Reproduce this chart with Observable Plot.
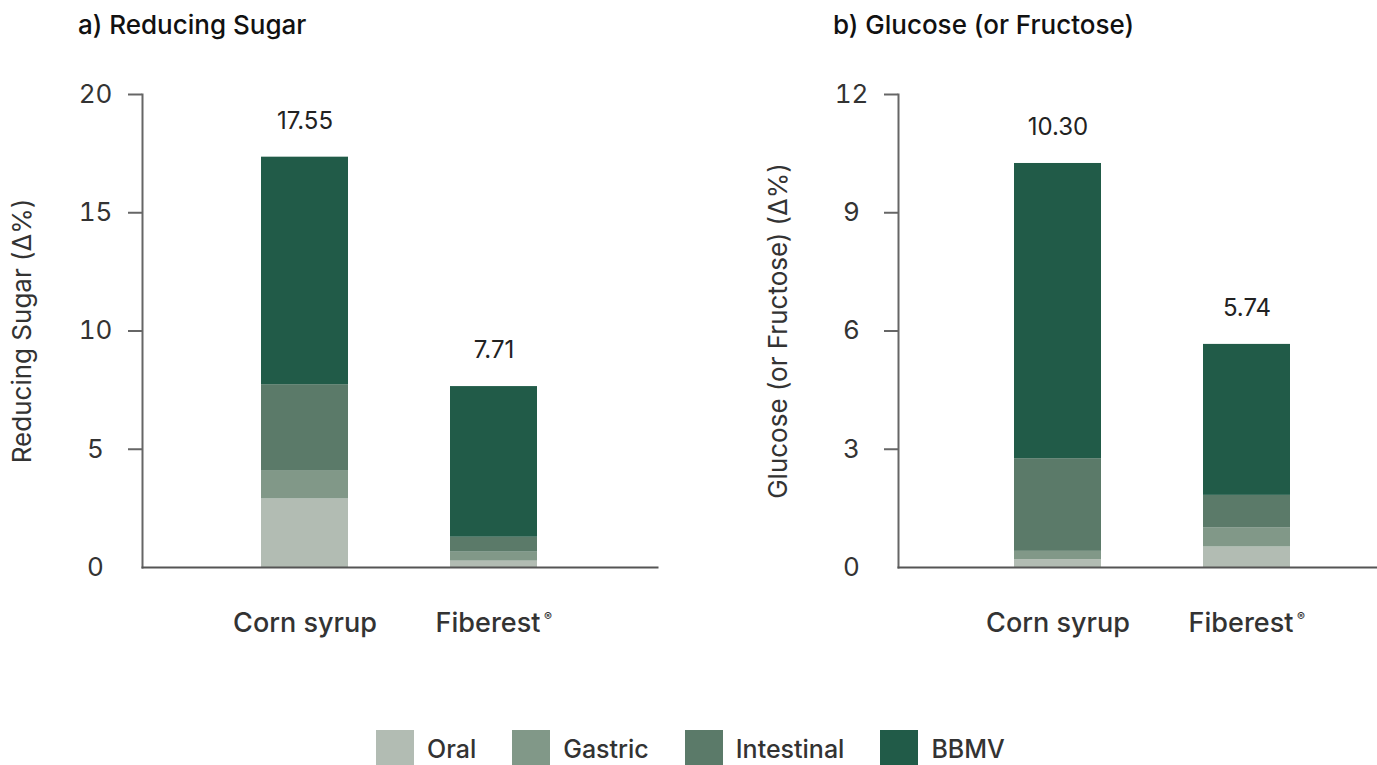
<!DOCTYPE html>
<html>
<head>
<meta charset="utf-8">
<script src="https://cdn.jsdelivr.net/npm/d3@7"></script>
<script src="https://cdn.jsdelivr.net/npm/@observablehq/plot@0.6"></script>
<style>
  html, body { margin: 0; padding: 0; background: #fff; }
  #root { position: relative; width: 1377px; height: 765px; overflow: hidden; font-family: Inter, "Open Sans", sans-serif; }
  .title { position: absolute; top: 9px; font-size: 26px; font-weight: 500; color: #111; white-space: nowrap; }
  .panel { position: absolute; top: 0; }
  #legend { position: absolute; top: 730px; left: 376px; display: flex; align-items: flex-start; }
  .item { display: flex; align-items: flex-start; margin-right: 36px; }
  .sw { width: 38px; height: 38px; margin-right: 13px; }
  .lab { font-size: 25px; font-weight: 500; color: #333; line-height: 38px; }
</style>
</head>
<body>
<div id="root"></div>
<script>
// ---- data ----
const categories = ["Corn syrup", "Fiberest"];
const trademark = ["", "®"];
const stages = ["Oral", "Gastric", "Intestinal", "BBMV"];
const stageColors = ["#b2bcb3", "#819888", "#5b7a69", "#215b48"];

// a) Reducing Sugar (Δ%) – per stage, per category
const sugarCorn = [2.90, 1.20, 3.63, 9.62];
const sugarFiberest = [0.27, 0.38, 0.63, 6.37];
const sugarTotals = ["17.55", "7.71"];
const sugarTicks = [0, 5, 10, 15, 20];

// b) Glucose (or Fructose) (Δ%)
const glucoseCorn = [0.20, 0.21, 2.35, 7.49];
const glucoseFiberest = [0.52, 0.49, 0.82, 3.83];
const glucoseTotals = ["10.30", "5.74"];
const glucoseTicks = [0, 3, 6, 9, 12];

const panelTitles = ["a) Reducing Sugar", "b) Glucose (or Fructose)"];
const yLabels = ["Reducing Sugar (Δ%)", "Glucose (or Fructose) (Δ%)"];

function rows(corn, fib) {
  const out = [];
  [corn, fib].forEach((vals, ci) => {
    vals.forEach((v, si) => out.push({category: categories[ci], stage: stages[si], value: v}));
  });
  return out;
}
function totalsRows(corn, fib, labels) {
  return [corn, fib].map((vals, ci) => ({category: categories[ci], total: d3.sum(vals), label: labels[ci]}));
}

const root = document.getElementById("root");

function panel({left, width, marginRight, xRange, corn, fib, labels, ticks, yLabel}) {
  const data = rows(corn, fib);
  const tots = totalsRows(corn, fib, labels);
  const font = "Inter, 'Open Sans', sans-serif";
  const plain = categories.filter((c, i) => !trademark[i]);
  const marked = categories.filter((c, i) => trademark[i]);
  const chart = Plot.plot({
    width, height: 660,
    marginLeft: 142, marginRight, marginTop: 94, marginBottom: 93,
    style: {fontFamily: font, fontSize: "24px", color: "#333", background: "transparent", overflow: "visible"},
    x: {type: "band", domain: categories, range: xRange, paddingInner: 0.538, paddingOuter: 0, axis: null},
    y: {domain: [ticks[0], ticks[ticks.length - 1]], axis: null},
    color: {domain: stages, range: stageColors},
    marks: [
      Plot.barY(data, {x: "category", y: "value", fill: "stage", order: stages}),
      Plot.frame({anchor: "left", stroke: "#666", strokeWidth: 2}),
      Plot.frame({anchor: "bottom", stroke: "#555", strokeWidth: 2}),
      Plot.axisY({ticks: ticks.slice(1), tickSize: 14, tickFormat: () => "", stroke: "#666", strokeWidth: 2, label: null}),
      Plot.axisY({ticks, tickSize: 0, tickPadding: 47, textAnchor: "middle", fontSize: 26, fill: "#333", label: null}),
      Plot.text([yLabel], {frameAnchor: "left", rotate: -90, dx: -120, fontSize: 26, fill: "#333", textAnchor: "middle", lineAnchor: "middle"}),
      Plot.text(tots, {x: "category", y: "total", text: "label", dy: -36, fontSize: 24, fill: "#222", lineAnchor: "middle"}),
      Plot.text(plain, {x: d => d, frameAnchor: "bottom", dy: 56, fontSize: 27, fontWeight: 500, fill: "#333", lineAnchor: "middle"}),
      Plot.text(marked, {x: d => d, frameAnchor: "bottom", dy: 56, dx: -6, fontSize: 27, fontWeight: 500, fill: "#333", lineAnchor: "middle"}),
      Plot.text(marked, {x: d => d, text: d => trademark[categories.indexOf(d)], frameAnchor: "bottom", dy: 50, dx: 54, fontSize: 12, fontWeight: 600, fill: "#333", lineAnchor: "middle"})
    ]
  });
  chart.classList.add("panel");
  chart.style.left = left + "px";
  root.appendChild(chart);
}

panel({left: 0, width: 700, marginRight: 43, xRange: [261, 538], corn: sugarCorn, fib: sugarFiberest, labels: sugarTotals, ticks: sugarTicks, yLabel: yLabels[0]});
panel({left: 756, width: 621, marginRight: 0, xRange: [258, 535], corn: glucoseCorn, fib: glucoseFiberest, labels: glucoseTotals, ticks: glucoseTicks, yLabel: yLabels[1]});

// titles
[[78, panelTitles[0]], [833, panelTitles[1]]].forEach(([x, t]) => {
  const d = document.createElement("div");
  d.className = "title";
  d.style.left = x + "px";
  d.textContent = t;
  root.appendChild(d);
});

// legend
const legend = document.createElement("div");
legend.id = "legend";
stages.forEach((s, i) => {
  const it = document.createElement("div");
  it.className = "item";
  const sw = document.createElement("div");
  sw.className = "sw";
  sw.style.background = stageColors[i];
  const lab = document.createElement("div");
  lab.className = "lab";
  lab.textContent = s;
  it.appendChild(sw); it.appendChild(lab);
  legend.appendChild(it);
});
root.appendChild(legend);
</script>
</body>
</html>
